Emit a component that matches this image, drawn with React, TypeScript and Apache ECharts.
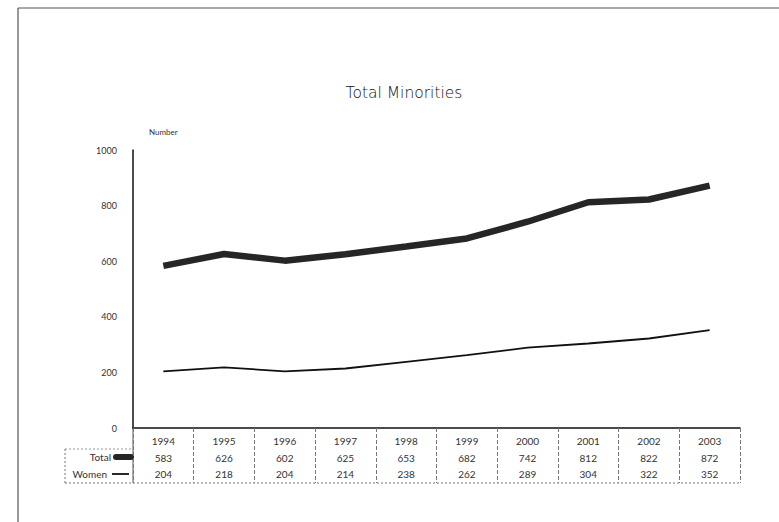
import React, { useEffect, useRef } from "react";
import * as echarts from "echarts";

const years = ["1994", "1995", "1996", "1997", "1998", "1999", "2000", "2001", "2002", "2003"];
const totalValues = [583, 626, 602, 625, 653, 682, 742, 812, 822, 872];
const womenValues = [204, 218, 204, 214, 238, 262, 289, 304, 322, 352];
const yTicks = [0, 200, 400, 600, 800, 1000];

const FONT = "Lato, 'DejaVu Sans', sans-serif";
const TITLE_FONT = "'DejaVu Sans', sans-serif";

export default function App() {
  const ref = useRef<HTMLDivElement>(null);
  useEffect(() => {
    if (!ref.current) return;
    const chart = echarts.init(ref.current, undefined, { renderer: "svg" });
    chart.setOption({
      animation: false,
      backgroundColor: "#fff",
      title: {
        text: "Total Minorities",
        left: 399,
        textAlign: "center",
        top: 80,
        textStyle: { fontFamily: TITLE_FONT, fontSize: 15.5, fontWeight: 200, color: "#111" },
      },
      grid: { left: 133, right: 39, top: 150, bottom: 94, containLabel: false },
      xAxis: {
        type: "category",
        data: years,
        boundaryGap: true,
        axisLine: { lineStyle: { color: "#111", width: 1.5 } },
        axisTick: {
          show: true,
          interval: 0,
          length: 55,
          inside: false,
          lineStyle: { color: "#777", type: "dashed", width: 1 },
        },
        axisLabel: {
          interval: 0,
          margin: 5,
          fontFamily: FONT,
          fontSize: 10,
          color: "#333",
          lineHeight: 16.5,
          formatter: (v: string, i: number) => `${v}\n${totalValues[i]}\n${womenValues[i]}`,
        },
      },
      yAxis: {
        type: "value",
        min: 0,
        max: 1000,
        interval: 200,
        name: "Number",
        nameLocation: "end",
        nameGap: 14,
        nameTextStyle: { fontFamily: FONT, fontSize: 8, color: "#333", align: "left", padding: [0, 0, 0, 16] },
        axisLine: { show: true, lineStyle: { color: "#111", width: 1.5 } },
        axisTick: { show: false },
        splitLine: { show: false },
        axisLabel: {
          margin: 16,
          fontFamily: FONT,
          fontSize: 9,
          color: "#333",
          formatter: (v: number) => (yTicks.includes(v) ? String(v) : ""),
        },
      },
      series: [
        {
          name: "Total",
          type: "line",
          data: totalValues,
          symbol: "none",
          lineStyle: { color: "#262626", width: 6.5 },
          z: 3,
        },
        {
          name: "Women",
          type: "line",
          data: womenValues,
          symbol: "none",
          lineStyle: { color: "#111", width: 1.8 },
          z: 3,
        },
      ],
      graphic: [
        // outer frame
        { type: "line", shape: { x1: 18, y1: 8, x2: 779, y2: 8 }, style: { stroke: "#555", lineWidth: 1 } },
        { type: "line", shape: { x1: 18, y1: 8, x2: 18, y2: 522 }, style: { stroke: "#333", lineWidth: 1 } },
        // table borders
        { type: "line", shape: { x1: 65, y1: 449, x2: 65, y2: 483 }, style: { stroke: "#777", lineWidth: 1, lineDash: [2, 2] } },
        { type: "line", shape: { x1: 65, y1: 449, x2: 133, y2: 449 }, style: { stroke: "#999", lineWidth: 1, lineDash: [2, 2] } },
        { type: "line", shape: { x1: 65, y1: 483, x2: 740, y2: 483 }, style: { stroke: "#777", lineWidth: 1, lineDash: [2, 2] } },
        { type: "line", shape: { x1: 133, y1: 428, x2: 133, y2: 483 }, style: { stroke: "#555", lineWidth: 1 } },
        // legend labels
        {
          type: "text",
          style: { text: "Total", x: 111, y: 457, align: "right", verticalAlign: "middle", font: `10px ${FONT}`, fill: "#333" },
        },
        { type: "line", shape: { x1: 116, y1: 457, x2: 131, y2: 457 }, style: { stroke: "#262626", lineWidth: 6, lineCap: "round" } },
        {
          type: "text",
          style: { text: "Women", x: 107, y: 474, align: "right", verticalAlign: "middle", font: `10px ${FONT}`, fill: "#333" },
        },
        { type: "line", shape: { x1: 112, y1: 474, x2: 129, y2: 474 }, style: { stroke: "#111", lineWidth: 1.8 } },
      ],
    });
    return () => chart.dispose();
  }, []);
  return (
    <div
      ref={ref}
      style={{ position: "fixed", left: 0, top: 0, width: 779, height: 522 }}
    />
  );
}
